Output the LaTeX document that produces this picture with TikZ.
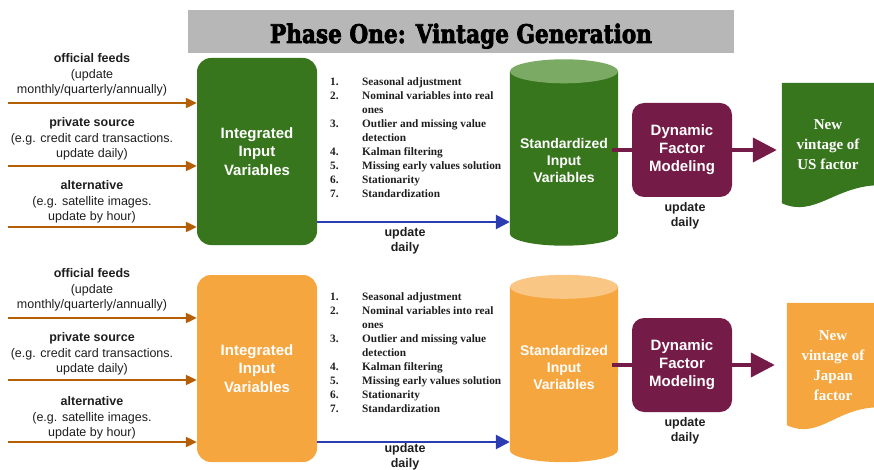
\documentclass[tikz,border=0pt]{standalone}
\usepackage{fontspec}
\setmainfont{Liberation Serif}
\newfontfamily\arialf{Liberation Sans}
\newfontfamily\slabf{DejaVu Serif}[BoldFeatures={FakeBold=3}]
\usetikzlibrary{arrows.meta,calc}

\definecolor{usgreen}{HTML}{38761D}
\definecolor{usgreentop}{HTML}{7BAA65}
\definecolor{jporange}{HTML}{F6A63F}
\definecolor{jporangetop}{HTML}{F9C684}
\definecolor{feedorange}{HTML}{B45F06}
\definecolor{flowblue}{HTML}{2B3CB3}
\definecolor{dfmmaroon}{HTML}{741B47}
\definecolor{titlegray}{HTML}{B7B7B7}
\definecolor{labelgray}{HTML}{1E1E1E}

% paints a vertical cylinder over the invisible box node #1
\newcommand\cylpaint[3]{%
  \fill[#2] ([yshift=-12pt]#1.north west) -- ([yshift=12pt]#1.south west)
    arc[start angle=180,end angle=360,x radius=54pt,y radius=12pt]
    -- ([yshift=-12pt]#1.north east) -- cycle;
  \fill[#3] ([yshift=-12pt]#1.north) ellipse[x radius=54pt,y radius=12pt];
}
% paints a document sheet (wavy bottom) over the invisible box node #1
\newcommand\docpaint[2]{%
  \fill[#2] (#1.north west) -- (#1.north east) -- ($(#1.south east)+(0,-18)$)
    .. controls ($(#1.south east)+(-45,-18)$) and ($(#1.south west)+(33,15)$)
    .. (#1.south west) -- cycle;
}

\tikzset{
  srclabel/.style={font=\arialf\fontsize{12.5}{15.5}\selectfont, align=center, text=labelgray, inner sep=0pt},
  feed/.style={draw=feedorange, line width=2.2pt, -{Triangle[length=11pt,width=10pt]}},
  inbox/.style={rounded corners=14pt, minimum width=120pt, minimum height=187pt, inner sep=0pt,
    text=white, font=\arialf\bfseries\fontsize{15}{18.5}\selectfont, align=center},
  cylbox/.style={minimum width=108pt, minimum height=186pt, inner sep=0pt},
  cyltext/.style={text=white, font=\arialf\bfseries\fontsize{14}{17}\selectfont, align=center, inner sep=0pt},
  dfmbox/.style={fill=dfmmaroon, rounded corners=12pt, minimum width=100pt, minimum height=94pt, inner sep=0pt,
    text=white, font=\arialf\bfseries\fontsize{15}{18}\selectfont, align=center},
  doctext/.style={text=white, font=\bfseries\fontsize{15}{20}\selectfont, align=center, inner sep=0pt},
  steplist/.style={font=\bfseries\fontsize{11.3}{14}\selectfont, align=left, anchor=north west, inner sep=0pt, text=labelgray},
  updlabel/.style={font=\arialf\bfseries\fontsize{12.5}{15}\selectfont, align=center, inner sep=0pt, text=labelgray},
  flow/.style={draw=flowblue, line width=2.6pt, -{Triangle[length=14pt,width=14pt]}},
  dfmlink/.style={draw=dfmmaroon, line width=4pt},
  dfmarrow/.style={draw=dfmmaroon, line width=4pt, -{Triangle[length=24pt,width=24pt]}},
}

\newcommand\steps{%
  \makebox[32pt][l]{1.}Seasonal adjustment\\
  \makebox[32pt][l]{2.}Nominal variables into real\\
  \hspace*{32pt}ones\\
  \makebox[32pt][l]{3.}Outlier and missing value\\
  \hspace*{32pt}detection\\
  \makebox[32pt][l]{4.}Kalman filtering\\
  \makebox[32pt][l]{5.}Missing early values solution\\
  \makebox[32pt][l]{6.}Stationarity\\
  \makebox[32pt][l]{7.}Standardization}

\begin{document}
\begin{tikzpicture}[x=1pt,y=-1pt]
\useasboundingbox (0,0) rectangle (874,470);

% title bar
\node[fill=titlegray, minimum width=546pt, minimum height=43pt, inner sep=0pt] (bar) at (461,31.5) {};
\node[anchor=base, inner sep=0pt, font=\slabf\bfseries] (title) at (461,43)
  {\resizebox{382pt}{19.5pt}{Phase One: Vintage Generation}};

% ---------- US row ----------
\node[srclabel] (src1a) at (92,75) {\textbf{official feeds}\\(update\\monthly/quarterly/annually)};
\node[srclabel] (src1b) at (92,139) {\textbf{private source}\\(e.g. credit card transactions.\\update daily)};
\node[srclabel] (src1c) at (92,202) {\textbf{alternative}\\(e.g. satellite images.\\update by hour)};
\node[inbox, fill=usgreen] (int1) at (257,151.5) {Integrated\\Input\\Variables};
\coordinate (f1a) at (8,103);
\coordinate (f1b) at (8,166);
\coordinate (f1c) at (8,227);
\draw[feed] (f1a) -- (f1a -| int1.west);
\draw[feed] (f1b) -- (f1b -| int1.west);
\draw[feed] (f1c) -- (f1c -| int1.west);

\node[steplist] (list1) at (330,77.5) {\steps};

\node[cylbox] (cyl1) at (564,152.5) {};
\cylpaint{cyl1}{usgreen}{usgreentop}
\node[cyltext] (cyl1t) at (564,160) {Standardized\\Input\\Variables};

\coordinate (lvl1) at (0,222);
\draw[flow] (int1.east |- lvl1) -- (cyl1.west |- lvl1);
\node[updlabel] (upd1) at (405,240.5) {update\\daily};

\node[dfmbox] (dfm1) at (682,150) {Dynamic\\Factor\\Modeling};
\draw[dfmlink] ([xshift=-6pt]cyl1.east |- dfm1.west) -- (dfm1.west);
\node[updlabel] (upd1m) at (685,215.5) {update\\daily};

\node[minimum width=98pt, minimum height=120pt, inner sep=0pt] (doc1) at (831,143) {};
\docpaint{doc1}{usgreen}
\node[doctext] (doc1t) at (828,145) {New\\vintage of\\US factor};
\draw[dfmarrow, shorten >=5pt] (dfm1.east) -- (dfm1.east -| doc1.west);

% ---------- Japan row ----------
\node[srclabel] (src2a) at (92,290) {\textbf{official feeds}\\(update\\monthly/quarterly/annually)};
\node[srclabel] (src2b) at (92,354) {\textbf{private source}\\(e.g. credit card transactions.\\update daily)};
\node[srclabel] (src2c) at (92,418) {\textbf{alternative}\\(e.g. satellite images.\\update by hour)};
\node[inbox, fill=jporange] (int2) at (257,368.5) {Integrated\\Input\\Variables};
\coordinate (f2a) at (8,318);
\coordinate (f2b) at (8,380);
\coordinate (f2c) at (8,442);
\draw[feed] (f2a) -- (f2a -| int2.west);
\draw[feed] (f2b) -- (f2b -| int2.west);
\draw[feed] (f2c) -- (f2c -| int2.west);

\node[steplist] (list2) at (330,292.5) {\steps};

\node[cylbox, minimum height=187pt] (cyl2) at (564,368.5) {};
\cylpaint{cyl2}{jporange}{jporangetop}
\node[cyltext] (cyl2t) at (564,367) {Standardized\\Input\\Variables};

\coordinate (lvl2) at (0,442);
\draw[flow] (int2.east |- lvl2) -- (cyl2.west |- lvl2);
\node[updlabel] (upd2) at (405,456.5) {update\\daily};

\node[dfmbox] (dfm2) at (682,365) {Dynamic\\Factor\\Modeling};
\draw[dfmlink] ([xshift=-6pt]cyl2.east |- dfm2.west) -- (dfm2.west);
\node[updlabel] (upd2m) at (685,430.5) {update\\daily};

\node[minimum width=93pt, minimum height=122pt, inner sep=0pt] (doc2) at (833.5,364) {};
\docpaint{doc2}{jporange}
\node[doctext] (doc2t) at (833,365.5) {New\\vintage of\\Japan\\factor};
\draw[dfmarrow, shorten >=12pt] (dfm2.east) -- (dfm2.east -| doc2.west);
\end{tikzpicture}
\end{document}
